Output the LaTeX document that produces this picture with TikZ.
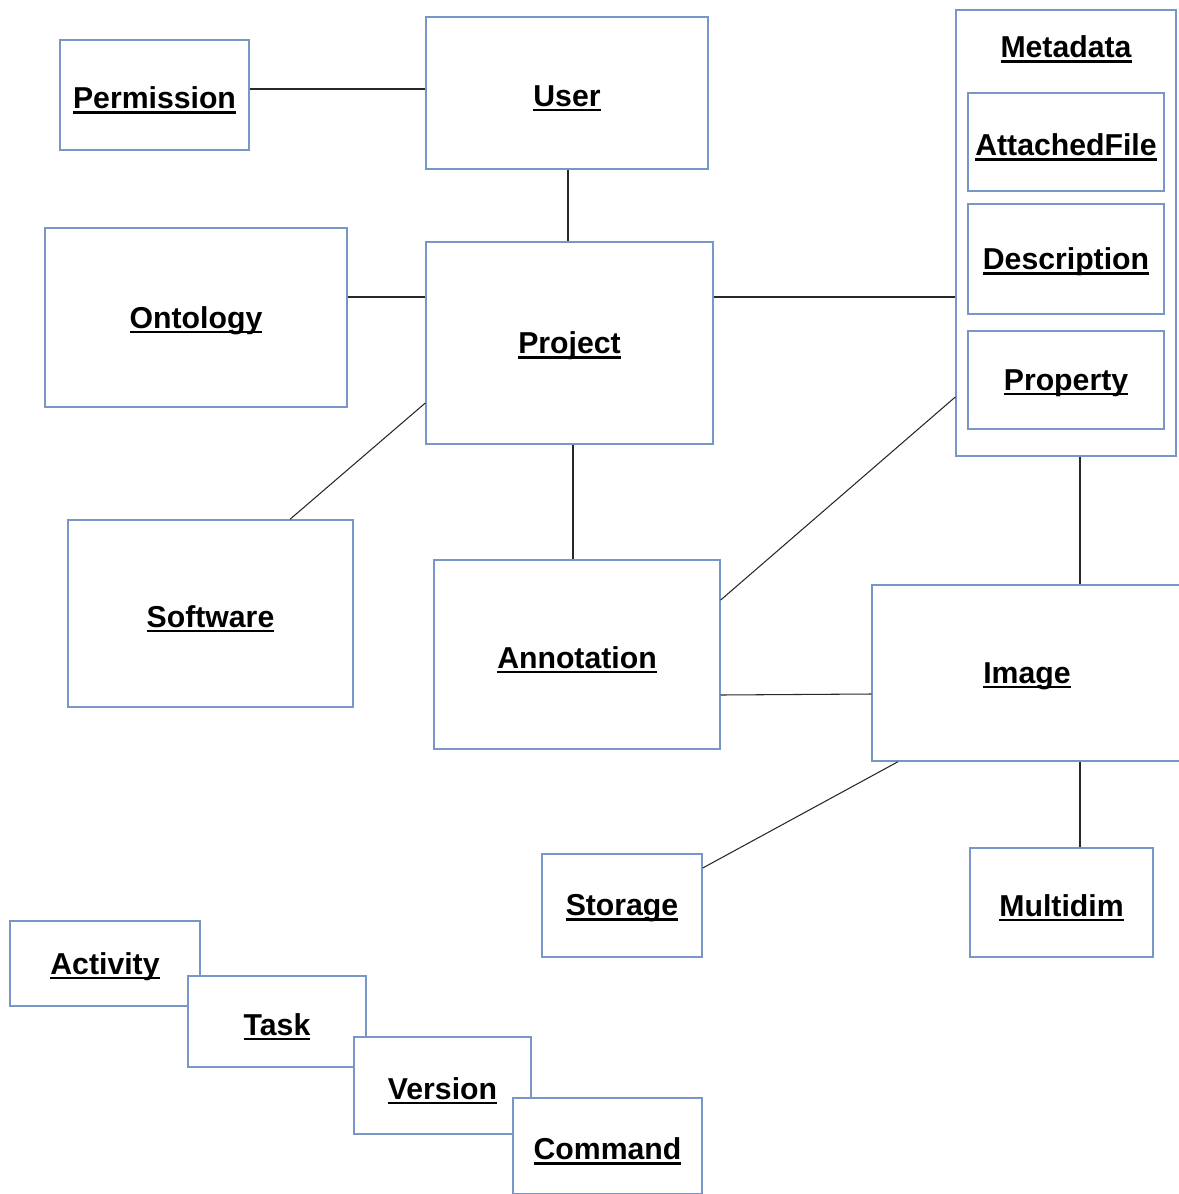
\documentclass[tikz,border=0pt]{standalone}
\usepackage{fontspec}
\setmainfont{Liberation Sans}
\definecolor{boxc}{RGB}{120,150,200}
\definecolor{linec}{RGB}{40,40,40}
\newcommand\ulbox[1]{\setbox0\hbox{#1}\raisebox{-0.06cm}[\ht0][\dp0]{\rlap{\rule[-0.16em]{\wd0}{0.075em}}\copy0}}
\begin{document}
\begin{tikzpicture}[x=0.02cm,y=-0.02cm,
  box/.style={draw=boxc, fill=white, line width=0.8pt, inner sep=0pt, rectangle,
    font=\fontsize{17.2}{20}\selectfont\bfseries},
  wh/.style 2 args={minimum width=#1*0.02cm, minimum height=#2*0.02cm},
  conn/.style={draw=linec, line width=0.6pt}]
\clip (0,0) rectangle (1179,1194);
\fill[white] (0,0) rectangle (1179,1194);
% nodes
\node[box, wh={189}{110}] (perm) at (154.5,95) {\ulbox{Permission}};
\node[box, wh={282}{152}] (user) at (567,93) {\ulbox{User}};
\node[box, wh={220}{446}] (meta) at (1066,233) {};
\node[font=\fontsize{17.2}{20}\selectfont\bfseries, inner sep=0pt] (metatitle) at (1066,44) {\ulbox{Metadata}};
\node[box, wh={196}{98}] (att) at (1066,142) {\ulbox{AttachedFile}};
\node[box, wh={196}{110}] (desc) at (1066,259) {\ulbox{Description}};
\node[box, wh={196}{98}] (prop) at (1066,380) {\ulbox{Property}};
\node[box, wh={302}{179}] (onto) at (196,317.5) {\ulbox{Ontology}};
\node[box, wh={287}{202}] (proj) at (569.5,343) {\ulbox{Project}};
\node[box, wh={285}{187}] (soft) at (210.5,613.5) {\ulbox{Software}};
\node[box, wh={286}{189}] (anno) at (577,654.5) {\ulbox{Annotation}};
\node[box, wh={310}{176}] (img) at (1027,673) {\ulbox{Image}};
\node[box, wh={160}{103}] (stor) at (622,905.5) {\ulbox{Storage}};
\node[box, wh={183}{109}] (multi) at (1061.5,902.5) {\ulbox{Multidim}};
\node[box, wh={190}{85}] (act) at (105,963.5) {\ulbox{Activity}};
\node[box, wh={178}{91}] (task) at (277,1021.5) {\ulbox{Task}};
\node[box, wh={177}{97}] (ver) at (442.5,1085.5) {\ulbox{Version}};
\node[box, wh={189}{96}] (cmd) at (607.5,1146) {\ulbox{Command}};
% connectors
\draw[conn] (perm.east |- 0,89) -- (user.west |- 0,89);
\draw[conn] (user.south -| 568,0) -- (proj.north -| 568,0);
\draw[conn] (onto.east |- 0,297) -- (proj.west |- 0,297);
\draw[conn] (proj.east |- 0,297) -- (meta.west |- 0,297);
\draw[conn] (proj.west |- 0,403) -- (soft.north -| 290,0);
\draw[conn] (proj.south -| 573,0) -- (anno.north -| 573,0);
\draw[conn] (anno.east |- 0,600) -- (meta.west |- 0,397);
\draw[conn] (anno.east |- 0,695) -- (img.west |- 0,694);
\draw[conn] (meta.south -| 1080,0) -- (img.north -| 1080,0);
\draw[conn] (img.south -| 898,0) -- (stor.east |- 0,868);
\draw[conn] (img.south -| 1080,0) -- (multi.north -| 1080,0);
\end{tikzpicture}
\end{document}
